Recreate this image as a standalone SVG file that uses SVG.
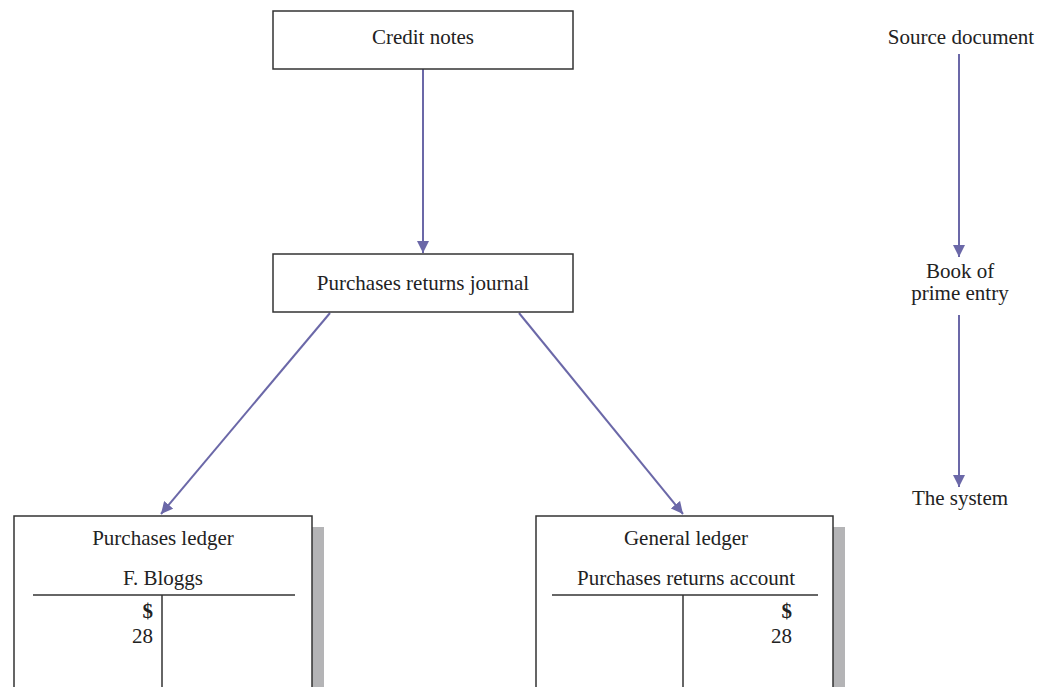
<svg xmlns="http://www.w3.org/2000/svg" width="1052" height="687" viewBox="0 0 1052 687">
  <style>
    text { font-family: "Liberation Serif", "Times New Roman", serif; font-size: 21px; fill: #222; }
    .mid { text-anchor: middle; }
    .end { text-anchor: end; }
    .bold { font-weight: bold; }
    .box { fill: #fff; stroke: #333; stroke-width: 1.5; }
    .shadow { fill: #b4b4b6; }
    .rule { stroke: #333; stroke-width: 1.5; fill: none; }
    .flow { stroke: #6b68a8; stroke-width: 2; fill: none; marker-end: url(#head); }
  </style>
  <defs>
    <marker id="head" viewBox="0 0 10 10" refX="10" refY="5" markerWidth="6" markerHeight="6" markerUnits="strokeWidth" orient="auto">
      <path d="M0,0 L10,5 L0,10 z" fill="#6b68a8"/>
    </marker>
  </defs>

  <rect width="1052" height="687" fill="#fff"/>

  <!-- connectors -->
  <g id="connectors">
    <line class="flow" x1="423" y1="69" x2="423" y2="253"/>
    <line class="flow" x1="330" y1="313" x2="161" y2="514"/>
    <line class="flow" x1="519" y1="313" x2="683" y2="514"/>
    <line class="flow" x1="959" y1="54" x2="959" y2="257"/>
    <line class="flow" x1="959" y1="315" x2="959" y2="487"/>
  </g>

  <!-- source document -->
  <g id="credit-notes">
    <rect class="box" x="273" y="11" width="300" height="58"/>
    <text class="mid" x="423" y="44">Credit notes</text>
  </g>

  <!-- book of prime entry -->
  <g id="returns-journal">
    <rect class="box" x="273" y="254" width="300" height="58"/>
    <text class="mid" x="423" y="290">Purchases returns journal</text>
  </g>

  <!-- purchases ledger T-account -->
  <g id="purchases-ledger">
    <rect class="shadow" x="312" y="527" width="12" height="170"/>
    <rect class="box" x="14" y="516" width="298" height="180"/>
    <text class="mid" x="163" y="545">Purchases ledger</text>
    <text class="mid" x="163" y="585">F. Bloggs</text>
    <line class="rule" x1="33" y1="595" x2="295" y2="595"/>
    <line class="rule" x1="162" y1="595" x2="162" y2="690"/>
    <text class="end bold" x="153" y="618">$</text>
    <text class="end" x="153" y="643">28</text>
  </g>

  <!-- general ledger T-account -->
  <g id="general-ledger">
    <rect class="shadow" x="833" y="527" width="12" height="170"/>
    <rect class="box" x="536" y="516" width="297" height="180"/>
    <text class="mid" x="686" y="545">General ledger</text>
    <text class="mid" x="686" y="585">Purchases returns account</text>
    <line class="rule" x1="552" y1="595" x2="818" y2="595"/>
    <line class="rule" x1="683" y1="595" x2="683" y2="690"/>
    <text class="end bold" x="792" y="618">$</text>
    <text class="end" x="792" y="643">28</text>
  </g>

  <!-- legend column -->
  <g id="legend-source">
    <text class="mid" x="961" y="44">Source document</text>
  </g>
  <g id="legend-prime">
    <text class="mid" x="960" y="278">Book of</text>
    <text class="mid" x="960" y="300">prime entry</text>
  </g>
  <g id="legend-system">
    <text class="mid" x="960" y="505">The system</text>
  </g>
</svg>
